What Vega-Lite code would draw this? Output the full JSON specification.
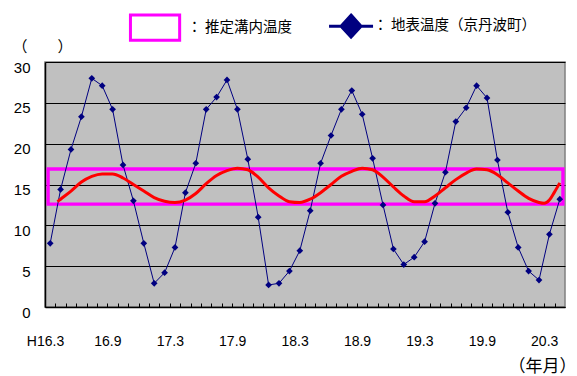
{
  "$schema": "https://vega.github.io/schema/vega-lite/v6.json",
  "width": 520,
  "height": 245,
  "autosize": {"type": "none"},
  "padding": {"left": 45, "top": 62, "right": 12, "bottom": 69},
  "background": "white",
  "config": {"view": {"fill": "#C0C0C0", "stroke": "#808080", "strokeWidth": 1.5}, "axis": {"labelOverlap": false}},
  "resolve": {"axis": {"x": "independent"}},
  "datasets": {
    "range": [{"series": "推定溝内温度", "from": -0.2, "to": 49.3, "low": 12.6, "high": 16.9}],
    "ground": [
      {"m": 0, "temp": 7.8, "series": "地表温度（京丹波町）"},
      {"m": 1, "temp": 14.4, "series": "地表温度（京丹波町）"},
      {"m": 2, "temp": 19.3, "series": "地表温度（京丹波町）"},
      {"m": 3, "temp": 23.3, "series": "地表温度（京丹波町）"},
      {"m": 4, "temp": 28.0, "series": "地表温度（京丹波町）"},
      {"m": 5, "temp": 27.1, "series": "地表温度（京丹波町）"},
      {"m": 6, "temp": 24.2, "series": "地表温度（京丹波町）"},
      {"m": 7, "temp": 17.4, "series": "地表温度（京丹波町）"},
      {"m": 8, "temp": 13.0, "series": "地表温度（京丹波町）"},
      {"m": 9, "temp": 7.8, "series": "地表温度（京丹波町）"},
      {"m": 10, "temp": 2.9, "series": "地表温度（京丹波町）"},
      {"m": 11, "temp": 4.2, "series": "地表温度（京丹波町）"},
      {"m": 12, "temp": 7.3, "series": "地表温度（京丹波町）"},
      {"m": 13, "temp": 14.0, "series": "地表温度（京丹波町）"},
      {"m": 14, "temp": 17.6, "series": "地表温度（京丹波町）"},
      {"m": 15, "temp": 24.2, "series": "地表温度（京丹波町）"},
      {"m": 16, "temp": 25.7, "series": "地表温度（京丹波町）"},
      {"m": 17, "temp": 27.8, "series": "地表温度（京丹波町）"},
      {"m": 18, "temp": 24.2, "series": "地表温度（京丹波町）"},
      {"m": 19, "temp": 18.1, "series": "地表温度（京丹波町）"},
      {"m": 20, "temp": 11.0, "series": "地表温度（京丹波町）"},
      {"m": 21, "temp": 2.7, "series": "地表温度（京丹波町）"},
      {"m": 22, "temp": 2.9, "series": "地表温度（京丹波町）"},
      {"m": 23, "temp": 4.4, "series": "地表温度（京丹波町）"},
      {"m": 24, "temp": 6.9, "series": "地表温度（京丹波町）"},
      {"m": 25, "temp": 11.8, "series": "地表温度（京丹波町）"},
      {"m": 26, "temp": 17.6, "series": "地表温度（京丹波町）"},
      {"m": 27, "temp": 21.0, "series": "地表温度（京丹波町）"},
      {"m": 28, "temp": 24.2, "series": "地表温度（京丹波町）"},
      {"m": 29, "temp": 26.5, "series": "地表温度（京丹波町）"},
      {"m": 30, "temp": 23.6, "series": "地表温度（京丹波町）"},
      {"m": 31, "temp": 18.2, "series": "地表温度（京丹波町）"},
      {"m": 32, "temp": 12.5, "series": "地表温度（京丹波町）"},
      {"m": 33, "temp": 7.1, "series": "地表温度（京丹波町）"},
      {"m": 34, "temp": 5.2, "series": "地表温度（京丹波町）"},
      {"m": 35, "temp": 6.1, "series": "地表温度（京丹波町）"},
      {"m": 36, "temp": 8.0, "series": "地表温度（京丹波町）"},
      {"m": 37, "temp": 12.7, "series": "地表温度（京丹波町）"},
      {"m": 38, "temp": 16.5, "series": "地表温度（京丹波町）"},
      {"m": 39, "temp": 22.7, "series": "地表温度（京丹波町）"},
      {"m": 40, "temp": 24.4, "series": "地表温度（京丹波町）"},
      {"m": 41, "temp": 27.1, "series": "地表温度（京丹波町）"},
      {"m": 42, "temp": 25.6, "series": "地表温度（京丹波町）"},
      {"m": 43, "temp": 18.0, "series": "地表温度（京丹波町）"},
      {"m": 44, "temp": 11.6, "series": "地表温度（京丹波町）"},
      {"m": 45, "temp": 7.3, "series": "地表温度（京丹波町）"},
      {"m": 46, "temp": 4.4, "series": "地表温度（京丹波町）"},
      {"m": 47, "temp": 3.3, "series": "地表温度（京丹波町）"},
      {"m": 48, "temp": 8.9, "series": "地表温度（京丹波町）"},
      {"m": 49, "temp": 13.2, "series": "地表温度（京丹波町）"}
    ],
    "groove": [
      {"m": 0.7, "temp": 12.9}, {"m": 1, "temp": 13.2}, {"m": 2, "temp": 14.2}, {"m": 3, "temp": 15.3},
      {"m": 4, "temp": 16.0}, {"m": 5, "temp": 16.3}, {"m": 6, "temp": 16.3}, {"m": 7, "temp": 15.8},
      {"m": 8, "temp": 15.0}, {"m": 9, "temp": 14.2}, {"m": 10, "temp": 13.4}, {"m": 11, "temp": 12.95},
      {"m": 12, "temp": 12.8}, {"m": 13, "temp": 13.1}, {"m": 14, "temp": 13.9}, {"m": 15, "temp": 15.1},
      {"m": 16, "temp": 16.1}, {"m": 17, "temp": 16.7}, {"m": 18, "temp": 17.0}, {"m": 19, "temp": 16.8},
      {"m": 20, "temp": 15.9}, {"m": 21, "temp": 14.6}, {"m": 22, "temp": 13.6}, {"m": 23, "temp": 12.9},
      {"m": 24, "temp": 12.8}, {"m": 25, "temp": 13.2}, {"m": 26, "temp": 14.0}, {"m": 27, "temp": 15.0},
      {"m": 28, "temp": 16.0}, {"m": 29, "temp": 16.6}, {"m": 30, "temp": 17.0}, {"m": 31, "temp": 16.8},
      {"m": 32, "temp": 15.9}, {"m": 33, "temp": 14.7}, {"m": 34, "temp": 13.6}, {"m": 35, "temp": 12.9},
      {"m": 36, "temp": 12.9}, {"m": 37, "temp": 13.6}, {"m": 38, "temp": 14.6}, {"m": 39, "temp": 15.6},
      {"m": 40, "temp": 16.4}, {"m": 41, "temp": 16.9}, {"m": 42, "temp": 16.8}, {"m": 43, "temp": 16.2},
      {"m": 44, "temp": 15.2}, {"m": 45, "temp": 14.2}, {"m": 46, "temp": 13.3}, {"m": 47, "temp": 12.8},
      {"m": 47.5, "temp": 12.7}, {"m": 48, "temp": 13.1}, {"m": 48.5, "temp": 14.1}, {"m": 49, "temp": 15.2}
    ]
  },
  "layer": [
    {
      "data": {"name": "range"},
      "mark": {"type": "rect", "filled": false, "strokeWidth": 3.3},
      "encoding": {
        "x": {
          "field": "from", "type": "quantitative", "scale": {"domain": [-0.5, 49.5], "nice": false, "zero": false},
          "axis": {
            "orient": "bottom",
            "values": [0.5, 1.5, 2.5, 3.5, 4.5, 5.5, 6.5, 7.5, 8.5, 9.5, 10.5, 11.5, 12.5, 13.5, 14.5, 15.5, 16.5, 17.5, 18.5, 19.5, 20.5, 21.5, 22.5, 23.5, 24.5, 25.5, 26.5, 27.5, 28.5, 29.5, 30.5, 31.5, 32.5, 33.5, 34.5, 35.5, 36.5, 37.5, 38.5, 39.5, 40.5, 41.5, 42.5, 43.5, 44.5, 45.5, 46.5, 47.5, 48.5],
            "tickSize": -4, "tickColor": "#000000", "tickWidth": 1,
            "domainColor": "#000000", "domainWidth": 1.5, "grid": false,
            "labels": false, "title": null
          }
        },
        "x2": {"field": "to"},
        "y": {"field": "low", "type": "quantitative", "scale": {"domain": [0, 30], "nice": false}},
        "y2": {"field": "high"},
        "color": {
          "field": "series", "type": "nominal",
          "scale": {"domain": ["推定溝内温度", "地表温度（京丹波町）"], "range": ["#FF00FF", "#000080"]},
          "legend": {
            "title": null, "orient": "none", "legendX": 102.8, "legendY": -43.5, "direction": "horizontal",
            "padding": 0, "symbolSize": 1600, "labelOffset": 25, "columnPadding": 27,
            "labelFont": "Noto Sans CJK JP", "labelFontSize": 14.5, "labelColor": "#000000", "labelLimit": 0,
            "labelExpr": "'：  ' + datum.label",
            "encode": {
              "labels": {"update": {"dx": {"signal": "datum.value === '推定溝内温度' ? 0 : -10"}}},
              "symbols": {
                "update": {
                  "shape": {"signal": "datum.value === '推定溝内温度' ? 'M-1.305,-0.7075H1.305V0.7075H-1.305ZM-1.155,-0.5575V0.5575H1.155V-0.5575Z' : 'M-1.1,0H1.1M0,-0.55L0.5,0L0,0.55L-0.5,0Z'"},
                  "fill": {"signal": "datum.value === '推定溝内温度' ? '#FF00FF' : '#000080'"},
                  "stroke": {"signal": "datum.value === '推定溝内温度' ? '#FF00FF' : '#000080'"},
                  "strokeWidth": {"signal": "datum.value === '推定溝内温度' ? 0.01 : 3"},
                  "opacity": {"value": 1},
                  "fillOpacity": {"value": 1},
                  "strokeOpacity": {"value": 1}
                }
              }
            }
          }
        }
      }
    },
    {
      "data": {"name": "ground"},
      "mark": {"type": "line", "strokeWidth": 1},
      "encoding": {
        "x": {
          "field": "m", "type": "quantitative",
          "scale": {"domain": [-0.5, 49.5], "nice": false, "zero": false},
          "axis": {
            "orient": "bottom",
            "values": [-0.5, 5.5, 11.5, 17.5, 23.5, 29.5, 35.5, 41.5, 47.5],
            "tickSize": -4, "tickOpacity": 0, "domain": false, "grid": false,
            "labelExpr": "datum.value == -0.5 ? 'H16.3' : datum.value == 5.5 ? '16.9' : datum.value == 11.5 ? '17.3' : datum.value == 17.5 ? '17.9' : datum.value == 23.5 ? '18.3' : datum.value == 29.5 ? '18.9' : datum.value == 35.5 ? '19.3' : datum.value == 41.5 ? '19.9' : '20.3'",
            "labelFlush": false, "labelOverlap": false, "labelBound": false,
            "labelFont": "Liberation Sans", "labelFontSize": 14, "labelColor": "#000000",
            "labelBaseline": "alphabetic", "labelPadding": 42,
            "title": "（年月）", "titleX": 497, "titleY": 59, "titleAlign": "center", "titleBaseline": "middle",
            "titleFont": "Noto Sans CJK JP", "titleFontSize": 17, "titleFontWeight": "normal", "titleColor": "#000000",
            "encode": {"labels": {"update": {"dx": {"signal": "datum.value == 5.5 ? 1 : datum.value == 11.5 ? 6 : datum.value == 23.5 ? 6 : datum.value == 29.5 ? 1.5 : datum.value == 35.5 ? 5 : datum.value == 47.5 ? 1.5 : 0"}}}}
          }
        },
        "y": {
          "field": "temp", "type": "quantitative",
          "scale": {"domain": [0, 30], "nice": false},
          "axis": {
            "values": [0, 5, 10, 15, 20, 25, 30],
            "title": "（　　）", "titleAngle": 0, "titleX": -3, "titleY": -16, "titleAlign": "center", "titleBaseline": "middle",
            "titleFont": "Noto Sans CJK JP", "titleFontSize": 15, "titleFontWeight": "normal", "titleColor": "#000000",
            "ticks": false, "domainColor": "#000000", "domainWidth": 1.5,
            "grid": true, "gridColor": "#000000", "gridWidth": 1, "gridOpacity": 1,
            "labelFont": "Liberation Sans", "labelFontSize": 15, "labelColor": "#000000",
            "labelPadding": 15, "labelOffset": 5
          }
        },
        "color": {"field": "series", "type": "nominal", "legend": null}
      }
    },
    {
      "data": {"name": "ground"},
      "mark": {"type": "point", "shape": "diamond", "filled": true, "size": 45, "opacity": 1},
      "encoding": {
        "x": {"field": "m", "type": "quantitative", "scale": {"domain": [-0.5, 49.5], "nice": false, "zero": false}, "axis": null},
        "y": {"field": "temp", "type": "quantitative", "scale": {"domain": [0, 30], "nice": false}},
        "color": {"field": "series", "type": "nominal", "legend": null}
      }
    },
    {
      "data": {"name": "groove"},
      "mark": {"type": "line", "color": "#FF0000", "strokeWidth": 3, "interpolate": "monotone"},
      "encoding": {
        "x": {"field": "m", "type": "quantitative", "scale": {"domain": [-0.5, 49.5], "nice": false, "zero": false}, "axis": null},
        "y": {"field": "temp", "type": "quantitative", "scale": {"domain": [0, 30], "nice": false}}
      }
    }
  ]
}
